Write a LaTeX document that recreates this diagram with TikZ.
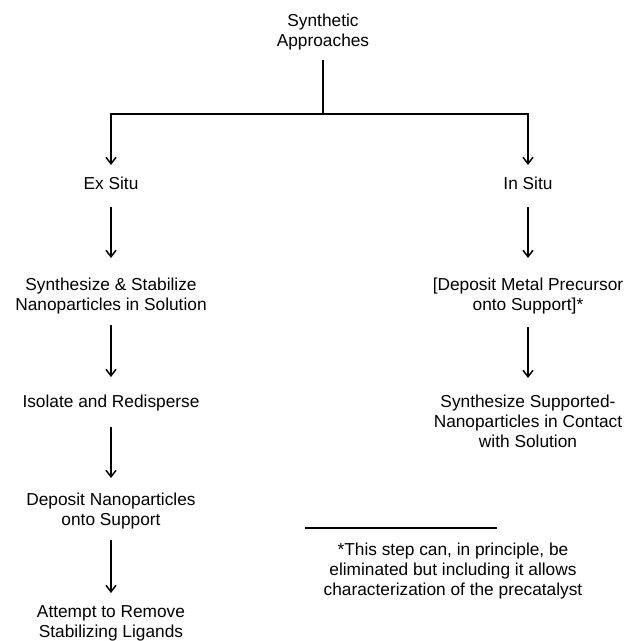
\documentclass[tikz,border=0pt]{standalone}
\usepackage{fontspec}
\setmainfont{Liberation Sans}
\usetikzlibrary{arrows.meta}
\begin{document}
\begin{tikzpicture}[x=1pt,y=-1pt,
  lbl/.style={inner sep=0pt, align=center, font=\fontsize{17.3}{20}\selectfont},
  arr/.style={line width=1.5pt, -{Straight Barb[length=6.5pt,width=10pt,line width=1.5pt]}},
  ln/.style={line width=1.5pt}]
\useasboundingbox (0,0) rectangle (626,641);
% nodes
\node[lbl] (top) at (323,32.5) {Synthetic\\Approaches};
\coordinate (j) at (323,114);
\node[lbl] (exsitu) at (111,183) {Ex Situ};
\node[lbl] (insitu) at (528,183) {In Situ};
\node[lbl] (ss) at (111,296) {Synthesize \& Stabilize\\Nanoparticles in Solution};
\node[lbl] (ir) at (111,403) {Isolate and Redisperse};
\node[lbl] (dn) at (111,511) {Deposit Nanoparticles\\onto Support};
\node[lbl] (ar) at (111,623) {Attempt to Remove\\Stabilizing Ligands};
\node[lbl] (dmp) at (528,296) {[Deposit Metal Precursor\\onto Support]*};
\node[lbl] (ssn) at (528,421) {Synthesize Supported-\\Nanoparticles in Contact\\with Solution};
\node[lbl] (note) at (453,571) {*This step can, in principle, be\\eliminated but including it allows\\characterization of the precatalyst};
% connectors
\draw[ln, shorten <=27.5pt] (top.center) -- (j);
\draw[arr, shorten >=18pt] (j) -| (exsitu.center);
\draw[arr, shorten >=18pt] (j) -| (insitu.center);
\draw[arr, shorten <=24pt, shorten >=38pt] (exsitu.center) -- (ss.center);
\draw[arr, shorten <=29pt, shorten >=26pt] (ss.center) -- (ir.center);
\draw[arr, shorten <=24pt, shorten >=33pt] (ir.center) -- (dn.center);
\draw[arr, shorten <=29pt, shorten >=30pt] (dn.center) -- (ar.center);
\draw[arr, shorten <=24pt, shorten >=38pt] (insitu.center) -- (dmp.center);
\draw[arr, shorten <=31pt, shorten >=43pt] (dmp.center) -- (ssn.center);
% footnote rule
\draw[ln] (305,528) -- (497,528);
\end{tikzpicture}
\end{document}
